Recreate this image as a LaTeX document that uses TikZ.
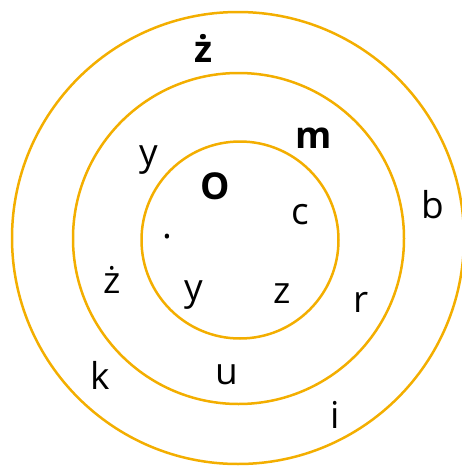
\documentclass[tikz,border=0pt]{standalone}
\usepackage{fontspec}
\setmainfont{Open Sans}
\definecolor{ring}{RGB}{243,174,0}
\begin{document}
\begin{tikzpicture}[x=1pt,y=-1pt,
  ringline/.style={draw=ring,line width=2.5pt},
  lbl/.style={anchor=base,inner sep=0pt,font=\fontsize{37}{40}\selectfont},
  blbl/.style={lbl,font=\fontsize{37}{40}\selectfont\bfseries}]
\useasboundingbox (0,0) rectangle (461,466);
\draw[ringline] (238,238) circle (226);
\draw[ringline] (238.5,238.5) circle (165.5);
\draw[ringline] (240,240) circle (98.5);
\node[blbl] (zb) at (204,62) {ż};
\node[blbl] (m) at (313.5,148) {m};
\node[blbl] (o) at (215,199) {O};
\node[lbl] (y1) at (148.5,165) {y};
\node[lbl] (c) at (300,224) {c};
\node[lbl] (b) at (432.5,218) {b};
\node[lbl] (dot) at (167.5,238) {.};
\node[lbl] (zd) at (112.5,293) {ż};
\node[lbl] (y2) at (194,300) {y};
\node[lbl] (z) at (282,303) {z};
\node[lbl] (r) at (361,312) {r};
\node[lbl] (k) at (100.5,389) {k};
\node[lbl] (u) at (227,384) {u};
\node[lbl] (i) at (335,428) {i};
\end{tikzpicture}
\end{document}
